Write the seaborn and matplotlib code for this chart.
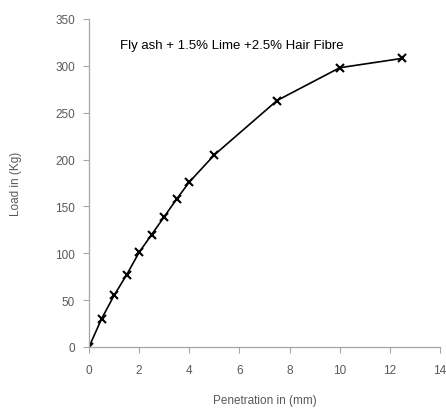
import matplotlib
matplotlib.use("Agg")
import matplotlib.pyplot as plt
import seaborn as sns
import pandas as pd

penetration = [0, 0.5, 1, 1.5, 2, 2.5, 3, 3.5, 4, 5, 7.5, 10, 12.5]
load = [0, 30, 55, 77, 101, 120, 139, 158, 176, 205, 263, 298, 308]
x_ticks = [0, 2, 4, 6, 8, 10, 12, 14]
y_ticks = [0, 50, 100, 150, 200, 250, 300, 350]

sns.set_style("white")
plt.rcParams['font.family'] = ['Liberation Sans', 'DejaVu Sans']

df = pd.DataFrame({"Penetration": penetration, "Load": load})

fig = plt.figure(figsize=(4.46, 4.10), dpi=100)
ax = fig.add_axes([89/446, 1-348/410, 351/446, 328/410])

sns.lineplot(data=df, x="Penetration", y="Load", ax=ax, color="black",
             linewidth=1.2, marker="x", markersize=6, markeredgewidth=1.5,
             markeredgecolor="black", estimator=None, sort=False)

ax.set_xlim(0, 14)
ax.set_ylim(0, 350)
ax.set_xticks(x_ticks)
ax.set_yticks(y_ticks)
for s in ["top", "right"]:
    ax.spines[s].set_visible(False)
for s in ["left", "bottom"]:
    ax.spines[s].set_color("#a6a6a6")
    ax.spines[s].set_linewidth(0.9)
ax.tick_params(axis="both", direction="out", length=4, width=0.8,
               bottom=True, left=True,
               color="#a6a6a6", labelcolor="#595959", labelsize=8.5, pad=6)
ax.tick_params(axis="x", pad=8)

ax.set_xlabel("Penetration in (mm)", fontsize=8.5, color="#595959", labelpad=13)
ax.set_ylabel("Load in (Kg)", fontsize=8.5, color="#595959", labelpad=24)

ax.text(0.088, 0.92, "Fly ash + 1.5% Lime +2.5% Hair Fibre", transform=ax.transAxes,
        fontsize=9.5, color="black", ha="left", va="center")

fig.savefig("out.png", dpi=100, facecolor="white")
